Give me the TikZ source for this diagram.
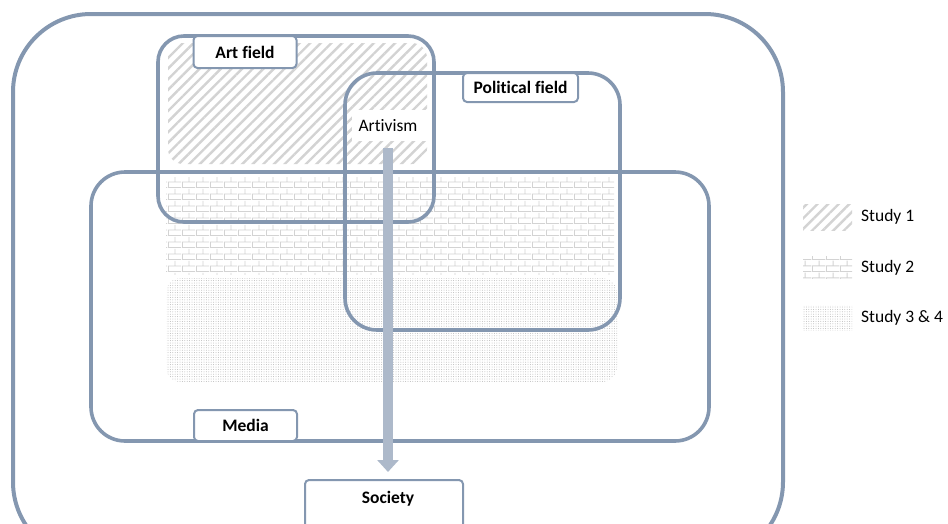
\documentclass[tikz,border=0pt]{standalone}
\usepackage{fontspec}
\setmainfont{Carlito}[Ligatures=NoCommon]
\usetikzlibrary{arrows.meta,patterns.meta,positioning}
\definecolor{fieldblue}{HTML}{8497B0}
\definecolor{flowblue}{HTML}{ADB9CA}
\definecolor{hatchgray}{HTML}{D3D3D3}

% brick wall fill for study 2
\pgfdeclarepattern{
  name=brickwall, type=uncolored,
  bottom left={\pgfpoint{0pt}{0pt}}, top right={\pgfpoint{14pt}{12pt}},
  tile size={\pgfpoint{14pt}{12pt}},
  code={
    \pgfsetlinewidth{0.9pt}
    \pgfpathmoveto{\pgfpoint{0pt}{0.5pt}}\pgfpathlineto{\pgfpoint{14pt}{0.5pt}}
    \pgfpathmoveto{\pgfpoint{0pt}{6.5pt}}\pgfpathlineto{\pgfpoint{14pt}{6.5pt}}
    \pgfpathmoveto{\pgfpoint{0.5pt}{0.5pt}}\pgfpathlineto{\pgfpoint{0.5pt}{6.5pt}}
    \pgfpathmoveto{\pgfpoint{7.5pt}{6.5pt}}\pgfpathlineto{\pgfpoint{7.5pt}{12pt}}
    \pgfusepath{stroke}
  }
}

\tikzset{
  field/.style={draw=fieldblue, line width=3.6pt, rounded corners=#1},
  field/.default=30pt,
  tab/.style={draw=fieldblue, line width=2pt, fill=white, rounded corners=4pt,
    font=\fontsize{17.5}{20}\selectfont\bfseries, inner sep=0pt},
  lbl/.style={font=\fontsize{17.5}{20}\selectfont, inner sep=0pt},
  study1/.style={pattern={Lines[angle=45,distance=7.5pt,line width=2.4pt]}, pattern color=hatchgray},
  study2/.style={pattern=brickwall, pattern color=hatchgray},
  study3/.style={pattern={Dots[distance=2.4pt,radius=0.5pt]}, pattern color=gray!55},
  flow/.style={draw=flowblue, line width=10pt, -{Triangle[width=21pt,length=12pt]}}
}

\begin{document}
\begin{tikzpicture}[x=1pt,y=-1pt]
\clip (0,0) rectangle (948,523);

% study areas
\fill[study1, rounded corners=15pt] (168,43) rectangle (427,164);
\fill[white] (352,110) rectangle (428,141);
\fill[study2] (166,177) rectangle (614,274);
\fill[study3, rounded corners=15pt] (166,278) rectangle (617,382);

% fields
\draw[field=26pt] (158,36) rectangle (434,222);
\draw[field=32pt] (345,73) rectangle (620,330);
\draw[field=34pt] (91,172) rectangle (709,441);
\draw[field=78pt, line width=4pt] (13,14) rectangle (783,560);

% tabs
\node[tab, minimum width=103pt, minimum height=32pt] (art) at (245,52) {Art field};
\node[tab, minimum width=115pt, minimum height=29pt] (political) at (520.5,87.5) {Political field};
\node[tab, minimum width=103pt, minimum height=31pt] (media) at (245.5,425.5) {Media};
\node[tab, minimum width=158pt, minimum height=70pt, anchor=north] (society) at (384,479) {};
\node[lbl, font=\fontsize{17.5}{20}\selectfont\bfseries] (societytext) at (388,499) {Society};

\node[lbl] (artivism) at (388,126) {Artivism};
\coordinate (flowstart) at (388,148);
\draw[flow, shorten >=7pt] (flowstart) -- (flowstart |- society.north);

% legend
\fill[study1] (803,204) rectangle (852,230);
\fill[study2] (803,256) rectangle (852,278);
\fill[study3] (803,305) rectangle (852,330);
\node[lbl, anchor=west] (leg1) at (861,217) {Study 1};
\node[lbl, anchor=west] (leg2) at (861,268) {Study 2};
\node[lbl, anchor=west] (leg3) at (861,318) {Study 3 \& 4};
\end{tikzpicture}
\end{document}
